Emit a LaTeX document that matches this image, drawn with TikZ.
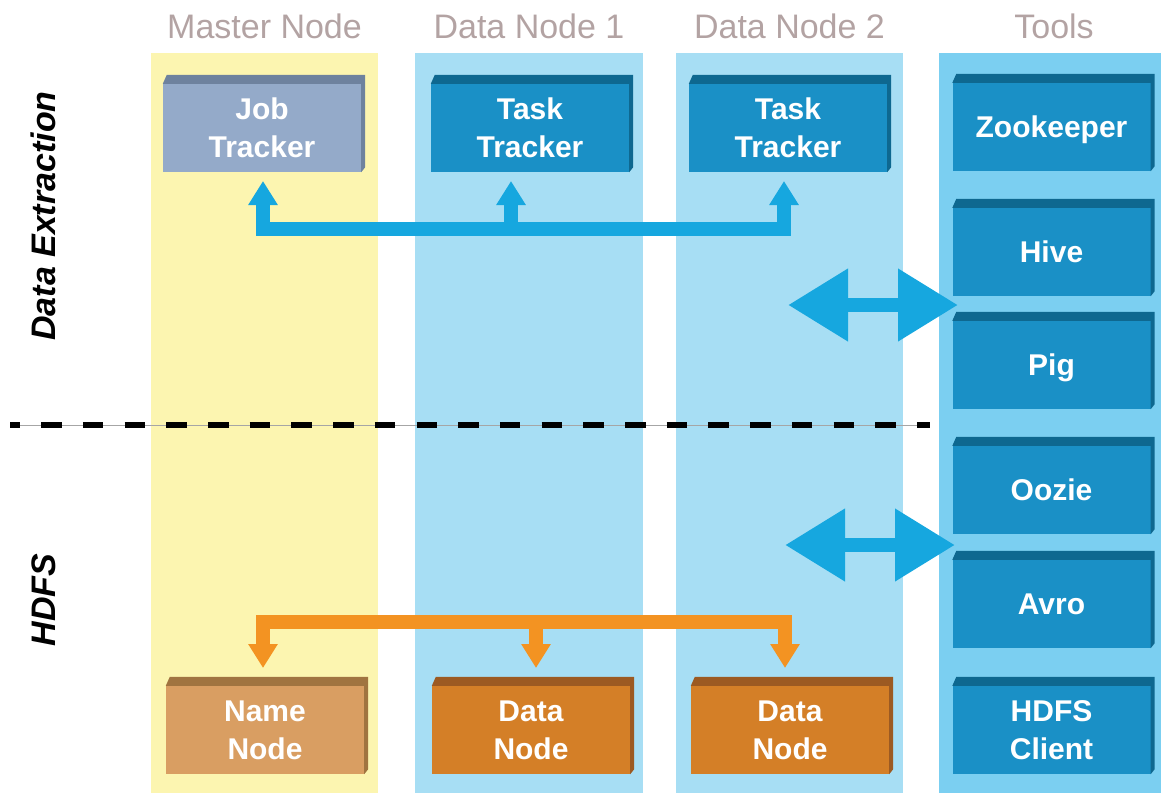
\documentclass[tikz,border=0pt]{standalone}
\usepackage{fontspec}
\setmainfont{Liberation Sans}
\usetikzlibrary{arrows.meta}

\definecolor{masterbg}{HTML}{FCF5B0}
\definecolor{databg}{HTML}{A7DEF4}
\definecolor{toolbg}{HTML}{7BCFF1}
\definecolor{blueface}{HTML}{1A90C6}
\definecolor{blueedge}{HTML}{0E6890}
\definecolor{jtface}{HTML}{94AAC9}
\definecolor{jtedge}{HTML}{6E829E}
\definecolor{nnface}{HTML}{D99E62}
\definecolor{nnedge}{HTML}{A07440}
\definecolor{dnface}{HTML}{D47F27}
\definecolor{dnedge}{HTML}{9C5A22}
\definecolor{linkblue}{HTML}{16A7DF}
\definecolor{linkorange}{HTML}{F39322}
\definecolor{headgray}{HTML}{B3A3A3}

\tikzset{
  block/.style={fill=#1, text=white, font=\fontsize{30}{38}\selectfont\bfseries,
    align=center, minimum width=198pt, minimum height=88pt, inner sep=0pt},
  oneline/.style={text height=21.5pt, text depth=0pt},
  colhead/.style={text=headgray, font=\fontsize{34}{40}\selectfont, anchor=base},
  sidelabel/.style={font=\fontsize{34}{40}\selectfont\bfseries\itshape, rotate=90, anchor=base},
  bluelink/.style={draw=linkblue, line width=14pt, line join=miter},
  orangelink/.style={draw=linkorange, line width=14pt, line join=miter},
  smallhead/.tip={Triangle[width=28pt, length=24pt]},
  bighead/.tip={Triangle[width=69pt, length=60pt]},
}

\begin{document}
\begin{tikzpicture}[x=1pt, y=-1pt]
  \useasboundingbox (0,0) rectangle (1161,793);

  % column backgrounds
  \fill[masterbg] (151,53) rectangle (378,793);
  \fill[databg]   (415,53) rectangle (643,793);
  \fill[databg]   (676,53) rectangle (903,793);
  \fill[toolbg]   (939,53) rectangle (1161,793);

  % column headings
  \node[colhead] (hmaster) at (264.5,38) {Master Node};
  \node[colhead] (hdata1)  at (529,38)   {Data Node 1};
  \node[colhead] (hdata2)  at (789.5,38) {Data Node 2};
  \node[colhead] (htools)  at (1054,38)  {Tools};

  % layer labels and separator
  \node[sidelabel] (lextract) at (55,216) {Data Extraction};
  \node[sidelabel] (lhdfs)    at (55,600) {HDFS};
  \draw[black!35, line width=1pt] (10,425) -- (930,425);
  \draw[black, line width=5.5pt, dash pattern=on 20.5pt off 21.2pt, dash phase=10.5pt]
    (10,425) -- (930,425);

  % processing daemons
  \node[block=jtface]   (jt)  at (262,128)   {Job\\Tracker};
  \node[block=blueface] (tt1) at (530,128)   {Task\\Tracker};
  \node[block=blueface] (tt2) at (788,128)   {Task\\Tracker};

  % storage daemons
  \node[block=nnface] (nn)  at (265,730)   {Name\\Node};
  \node[block=dnface] (dn1) at (531,730)   {Data\\Node};
  \node[block=dnface] (dn2) at (790,730)   {Data\\Node};

  % tool stack
  \node[block=blueface, oneline] (zk)   at (1051.5,127) {Zookeeper};
  \node[block=blueface, oneline] (hive) at (1051.5,252) {Hive};
  \node[block=blueface, oneline] (pig)  at (1051.5,365) {Pig};
  \node[block=blueface, oneline] (oz)   at (1051.5,490) {Oozie};
  \node[block=blueface, oneline] (avro) at (1051.5,604) {Avro};
  \node[block=blueface] (hc)   at (1051.5,730) {HDFS\\Client};

  % bevelled top and right edges of every block
  \foreach \n/\e in {jt/jtedge, tt1/blueedge, tt2/blueedge, nn/nnedge, dn1/dnedge,
                     dn2/dnedge, zk/blueedge, hive/blueedge, pig/blueedge,
                     oz/blueedge, avro/blueedge, hc/blueedge}{
    \fill[\e] (\n.north west) -- ++(4,-9) -- ([shift={(4,-9)}]\n.north east)
      -- ([shift={(4,-5)}]\n.south east) -- (\n.south east) -- (\n.north east) -- cycle;
  }

  % MapReduce links
  \coordinate (jtin)  at (263,181);
  \coordinate (tt1in) at (511,181);
  \coordinate (tt2in) at (784,181);
  \coordinate (busT)  at (511,229);
  \draw[bluelink, {smallhead}-{smallhead}] (jtin) |- (busT) -| (tt2in);
  \draw[bluelink, -{smallhead}] (busT) -- (tt1in);

  % HDFS links
  \coordinate (nnin)  at (263,668);
  \coordinate (dn1in) at (536,668);
  \coordinate (dn2in) at (785,668);
  \coordinate (busB)  at (536,622);
  \draw[orangelink, {smallhead}-{smallhead}] (nnin) |- (busB) -| (dn2in);
  \draw[orangelink, -{smallhead}] (busB) -- (dn1in);

  % exchange with the tools
  \coordinate (exL) at (788,305);
  \coordinate (exR) at (958,305);
  \draw[bluelink, {bighead}-{bighead}] (exL) -- (exR);
  \coordinate (hdL) at (785,545);
  \coordinate (hdR) at (955,545);
  \draw[bluelink, {bighead}-{bighead}] (hdL) -- (hdR);
\end{tikzpicture}
\end{document}
